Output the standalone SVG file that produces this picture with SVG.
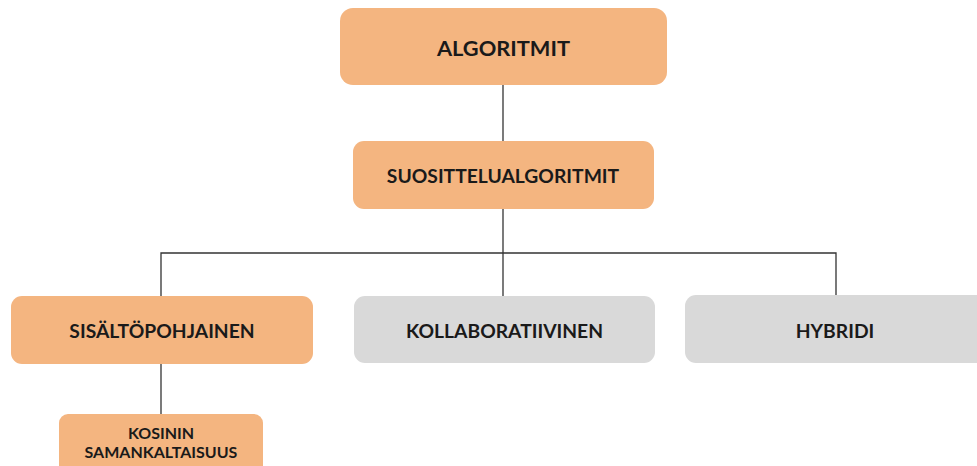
<svg xmlns="http://www.w3.org/2000/svg" width="977" height="466" viewBox="0 0 977 466">
<style>
.o{fill:#F4B580}
.g{fill:#D9D9D9}
text{font-family:Lato,"Liberation Sans",sans-serif;font-weight:700;fill:#1a1a1a;text-anchor:middle;dominant-baseline:central}
.m{font-size:19.3px}
.s{font-size:16px}
.c{fill:none;stroke:#333;stroke-width:1.3}
</style>
<g id="connectors">
<path class="c" d="M503 85V142"/>
<path class="c" d="M503 209V296"/>
<path class="c" d="M161 296V253H836V295"/>
<path class="c" d="M161 364V414"/>
</g>
<g id="algoritmit"><rect class="o" x="340" y="8" width="327" height="77" rx="13"/><text x="503.5" y="47" font-size="21.8">ALGORITMIT</text></g>
<g id="suosittelu"><rect class="o" x="353" y="141" width="301" height="68" rx="11"/><text class="m" x="503" y="175.5">SUOSITTELUALGORITMIT</text></g>
<g id="sisalto"><rect class="o" x="11" y="296" width="302" height="68" rx="11"/><text class="m" x="162" y="330">SISÄLTÖPOHJAINEN</text></g>
<g id="kollaboratiivinen"><rect class="g" x="354" y="296" width="301" height="67" rx="11"/><text class="m" x="504.5" y="330">KOLLABORATIIVINEN</text></g>
<g id="hybridi"><rect class="g" x="685" y="295" width="310" height="68" rx="11"/><text class="m" x="835" y="330">HYBRIDI</text></g>
<g id="kosinin"><rect class="o" x="59" y="414" width="204" height="70" rx="9"/><text class="s" x="161" y="432">KOSININ</text><text class="s" x="161" y="451">SAMANKALTAISUUS</text></g>
</svg>
